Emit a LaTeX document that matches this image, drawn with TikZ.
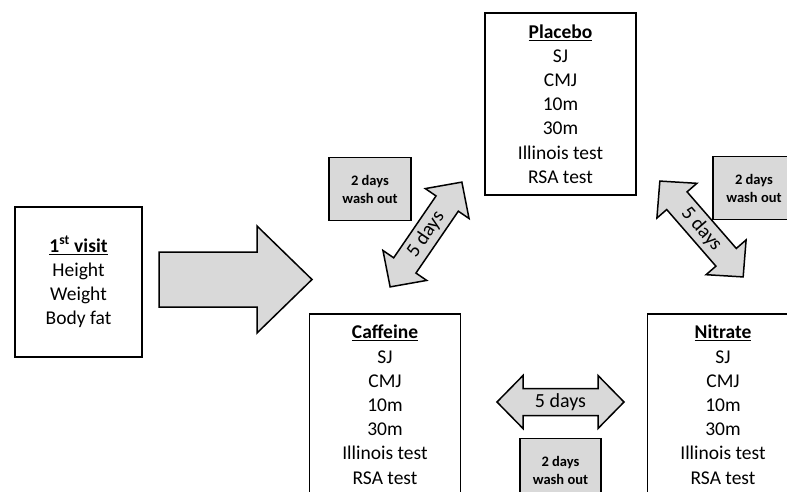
\documentclass[tikz,border=0pt]{standalone}
\usepackage{fontspec}
\setmainfont{Carlito}
\definecolor{boxgray}{HTML}{D9D9D9}
\tikzset{
  card/.style={draw, line width=1.5pt, align=center, inner sep=0pt,
    font=\fontsize{19.5}{24.2}\selectfont},
  treatment/.style={card, minimum width=151pt, minimum height=182pt},
  washbox/.style={draw, line width=1.5pt, fill=boxgray, align=center,
    minimum width=82pt, minimum height=63pt,
    font=\bfseries\fontsize{14.5}{18}\selectfont},
  blockarrow/.style={draw, line width=1.5pt, fill=boxgray, line join=miter},
}
\newcommand{\cardtitle}[1]{\textbf{\underline{#1}}}
\newcommand{\testlist}{SJ\\CMJ\\10m\\30m\\Illinois test\\RSA test}

\begin{document}
\begin{tikzpicture}[x=1pt,y=-1pt]
\useasboundingbox (0,0) rectangle (787,492);
\clip (0,0) rectangle (787,492);

% first visit and the move to the trials
\node[card, minimum width=127pt, minimum height=150pt] (visit) at (78.5,282)
  {\cardtitle{1\textsuperscript{st} visit}\\Height\\Weight\\Body fat};
\draw[blockarrow] (159,252) -- (257,252) -- (257,226) -- (312,279.5)
  -- (257,333) -- (257,307) -- (159,307) -- cycle;

% trial conditions
\node[treatment] (placebo) at (560.5,104) {\cardtitle{Placebo}\\\testlist};
\node[treatment, anchor=north] (caffeine) at (385,313) {\cardtitle{Caffeine}\\\testlist};
\node[treatment, anchor=north] (nitrate) at (723,313) {\cardtitle{Nitrate}\\\testlist};

% wash out periods
\node[washbox] (washA) at (370,189) {2 days\\wash out};
\node[washbox] (washB) at (754,188) {2 days\\wash out};
\node[washbox, minimum width=81pt] (washC) at (560.5,470) {2 days\\wash out};

% 5 day gaps
\foreach \cx/\cy/\ang/\nm in {426/234.5/55.6/gapA, 701.5/229/-49/gapB, 560.5/402/0/gapC} {
  \begin{scope}[shift={(\cx,\cy)}, rotate=\ang]
    \draw[blockarrow] (-63.5,0) -- (-37.5,-26.5) -- (-37.5,-13.5) -- (37.5,-13.5)
      -- (37.5,-26.5) -- (63.5,0) -- (37.5,26.5) -- (37.5,13.5)
      -- (-37.5,13.5) -- (-37.5,26.5) -- cycle;
    \node[rotate=\ang, font=\fontsize{20}{24}\selectfont, inner sep=0pt] (\nm) at (0,0) {5 days};
  \end{scope}
}
\end{tikzpicture}
\end{document}
